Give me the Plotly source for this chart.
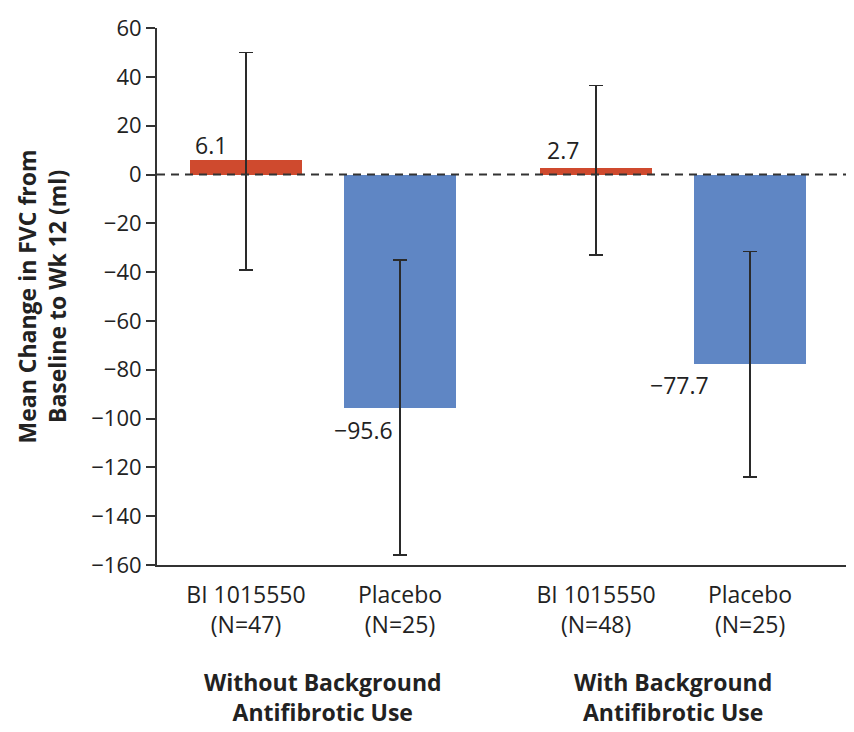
import plotly.graph_objects as go

# ---- data ----
categories = ["BI 1015550<br>(N=47)", "Placebo<br>(N=25)", "BI 1015550<br>(N=48)", "Placebo<br>(N=25)"]
groups = ["Without Background<br>Antifibrotic Use", "With Background<br>Antifibrotic Use"]
mean_change = [6.1, -95.6, 2.7, -77.7]
ci_upper = [50, -35, 36.5, -31.5]
ci_lower = [-39, -156, -33, -124]
value_labels = ["6.1", "\u221295.6", "2.7", "\u221277.7"]
y_ticks = [60, 40, 20, 0, -20, -40, -60, -80, -100, -120, -140, -160]

# ---- styling / layout ----
x_pos = [0, 1, 2.273, 3.273]
colors = ["#CF4A2E", "#5F86C4", "#CF4A2E", "#5F86C4"]
label_dx = [-0.23, -0.234, -0.214, -0.455]
label_y = [12.0, -104.7, 10.0, -86.3]
FONT = "Open Sans, Arial, sans-serif"
TXT = "#222222"

err_plus = [u - m for u, m in zip(ci_upper, mean_change)]
err_minus = [m - l for m, l in zip(mean_change, ci_lower)]

fig = go.Figure()
fig.add_trace(go.Bar(
    x=x_pos, y=mean_change, width=0.727,
    marker=dict(color=colors, line=dict(width=0)),
    error_y=dict(type="data", symmetric=False, array=err_plus, arrayminus=err_minus,
                 color="#2a2a2a", thickness=1.6, width=7),
    hoverinfo="skip", showlegend=False,
))

# zero reference line
fig.add_shape(type="line", xref="paper", x0=0, x1=1, yref="y", y0=0, y1=0,
              line=dict(color="#333333", width=2, dash="8px,6px"), layer="above")

ann = []
for xp, dx, ly, txt in zip(x_pos, label_dx, label_y, value_labels):
    ann.append(dict(x=xp + dx, y=ly, xref="x", yref="y", text=txt, showarrow=False,
                    font=dict(family=FONT, size=23, color=TXT)))

group_x = [(x_pos[0] + x_pos[1]) / 2, (x_pos[2] + x_pos[3]) / 2]
for gx, g in zip(group_x, groups):
    ann.append(dict(x=gx, y=-0.185, xref="x", yref="paper", text="<b>" + g + "</b>",
                    showarrow=False, yanchor="top",
                    font=dict(family=FONT, size=23, color=TXT)))

ann.append(dict(x=-0.166, y=0.5, xref="paper", yref="paper", xanchor="center", yanchor="middle",
                text="<b>Mean Change in FVC from<br>Baseline to Wk 12 (ml)</b>",
                textangle=-90, showarrow=False,
                font=dict(family=FONT, size=23, color=TXT)))

# page has an 8px body margin: figure is 846x724 placed at (8, 8)
fig.update_layout(
    width=846, height=724,
    margin=dict(l=149, r=4, t=16, b=167),
    paper_bgcolor="white", plot_bgcolor="white",
    font=dict(family=FONT, size=22, color=TXT),
    annotations=ann,
    bargap=0,
)
fig.update_xaxes(
    range=[-0.578, 3.922], tickvals=x_pos, ticktext=categories,
    showline=True, linecolor="#333333", linewidth=2,
    ticks="outside", ticklen=8, tickcolor="rgba(0,0,0,0)",
    showgrid=False, zeroline=False,
    tickfont=dict(family=FONT, size=23, color=TXT),
)
fig.update_yaxes(
    range=[-160, 60.05], tickvals=y_ticks,
    ticktext=[str(v).replace("-", "\u2212") for v in y_ticks],
    ticklabeloverflow="allow",
    showline=True, linecolor="#333333", linewidth=2,
    ticks="outside", ticklen=9, tickwidth=2, tickcolor="#333333",
    showgrid=False, zeroline=False,
    tickfont=dict(family=FONT, size=22, color=TXT),
)

fig.write_html("out.html")
